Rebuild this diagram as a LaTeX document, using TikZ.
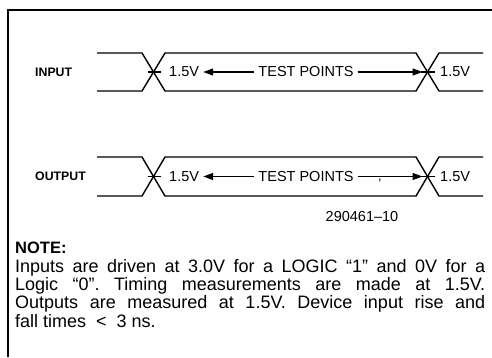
\documentclass[tikz,border=0pt]{standalone}
\usepackage{fontspec}
\setmainfont{Liberation Sans}
\usetikzlibrary{arrows.meta}
\begin{document}
\begin{tikzpicture}[x=1pt,y=-1pt,
  wave/.style={line width=1.4pt,line join=miter},
  tick/.style={line width=1.2pt},
  lbl/.style={inner sep=0pt,font=\fontsize{14.5}{16}\selectfont},
  sig/.style={inner sep=0pt,font=\fontsize{12.3}{14}\selectfont\bfseries,anchor=west},
  tp/.style={line width=1.3pt,-{Triangle[length=10pt,width=7pt]}},
  frame/.style={line width=1.8pt}]
\useasboundingbox (0,0) rectangle (492,357);
% frame
\draw[frame] (8,357) -- (8,10) -- (492,10);

% ---------- INPUT ----------
\node[sig] (inlbl) at (35,72) {INPUT};
\draw[wave] (97,53) -- (142,53) -- (165,91) -- (416,91) -- (439,53) -- (483,53);
\draw[wave] (97,91) -- (142,91) -- (165,53) -- (416,53) -- (439,91) -- (483,91);
\coordinate (inx1) at (153.5,72);
\coordinate (inx2) at (427.5,72);
\draw[tick] ([xshift=-6pt]inx1) -- ([xshift=7pt]inx1);
\draw[tick] ([xshift=-7pt]inx2) -- ([xshift=7pt]inx2);
\node[lbl,anchor=west] (inv1) at (169,72) {1.5V};
\node[lbl] (intp) at (306,72) {TEST POINTS};
\node[lbl,anchor=west] (inv2) at (440,72) {1.5V};
\draw[tp] ([xshift=-4pt]intp.west) -- ([xshift=4pt]inv1.east);
\draw[tp] ([xshift=4pt]intp.east) -- ([xshift=-5pt]inx2);

% ---------- OUTPUT ----------
\node[sig] (outlbl) at (35,176.5) {OUTPUT};
\draw[wave] (97,157) -- (142,157) -- (165,196) -- (416,196) -- (439,157) -- (483,157);
\draw[wave] (97,196) -- (142,196) -- (165,157) -- (416,157) -- (439,196) -- (483,196);
\coordinate (outx1) at (153.5,176.5);
\coordinate (outx2) at (427.5,176.5);
\draw[tick] ([xshift=-6pt]outx1) -- ([xshift=7pt]outx1);
\draw[tick] ([xshift=-7pt]outx2) -- ([xshift=7pt]outx2);
\node[lbl,anchor=west] (outv1) at (169,176.5) {1.5V};
\node[lbl] (outtp) at (306,176.5) {TEST POINTS};
\node[lbl,anchor=west] (outv2) at (440,176.5) {1.5V};
\draw[tp] ([xshift=-4pt]outtp.west) -- ([xshift=4pt]outv1.east);
\draw[tp] ([xshift=4pt]outtp.east) -- ([xshift=-5pt]outx2);
\node[inner sep=0pt,font=\fontsize{13}{15}\selectfont] (stray) at (380,181) {,};

% figure number
\node[lbl] (fignum) at (362,217) {290461--10};

% note
\node[inner sep=0pt,anchor=north west,text width=470pt,align=justify,
      font=\fontsize{18}{18.4}\selectfont\frenchspacing] (note) at (15,242)
{{\fontsize{16.5}{18.4}\selectfont\bfseries NOTE:}\\
Inputs are driven at 3.0V for a LOGIC ``1'' and 0V for a\linebreak
Logic ``0''. Timing measurements are made at 1.5V.\linebreak
Outputs are measured at 1.5V. Device input rise and\linebreak
fall times \ < \ 3 ns.};
\end{tikzpicture}
\end{document}
